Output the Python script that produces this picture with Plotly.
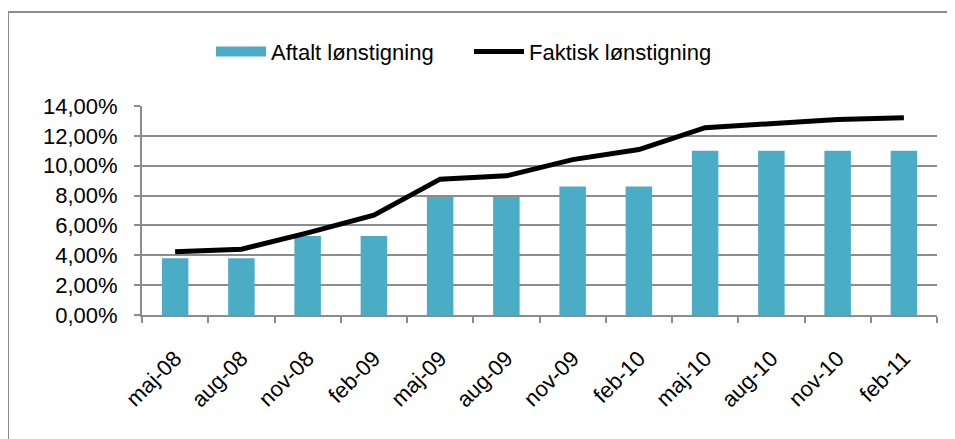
import plotly.graph_objects as go

categories = ["maj-08", "aug-08", "nov-08", "feb-09", "maj-09", "aug-09",
              "nov-09", "feb-10", "maj-10", "aug-10", "nov-10", "feb-11"]
aftalt = [3.8, 3.8, 5.3, 5.3, 7.9, 7.9, 8.6, 8.6, 11.0, 11.0, 11.0, 11.0]
faktisk = [4.23, 4.41, 5.5, 6.69, 9.1, 9.32, 10.41, 11.08, 12.55, 12.86, 13.09, 13.22]
y_ticks = [0, 2, 4, 6, 8, 10, 12, 14]
y_ticktext = ["0,00%", "2,00%", "4,00%", "6,00%", "8,00%", "10,00%", "12,00%", "14,00%"]

FONT = "Liberation Sans, Arial, sans-serif"
GRID = "#8c8c8c"
BAR = "#4BACC6"

# page body offsets the figure by 8px; compensate
OFF = 8
W, H = 955 - OFF, 439 - OFF
L, T, PW, PH = 142 - OFF, 106 - OFF, 795, 209

fig = go.Figure()
fig.add_trace(go.Bar(x=categories, y=aftalt, name="Aftalt lønstigning", showlegend=False,
                     marker=dict(color=BAR, line=dict(width=0)), width=0.4))
# legend swatch (wide rectangle) for the bar series
fig.add_trace(go.Scatter(x=[None], y=[None], name="Aftalt lønstigning", mode="lines",
                         line=dict(color=BAR, width=15)))
fig.add_trace(go.Scatter(x=categories, y=faktisk, name="Faktisk lønstigning",
                         mode="lines", line=dict(color="black", width=5)))

fig.update_layout(
    width=W, height=H,
    margin=dict(l=L, r=W - L - PW, t=T, b=H - T - PH, autoexpand=False),
    paper_bgcolor="white", plot_bgcolor="white",
    font=dict(family=FONT, size=22, color="black"),
    showlegend=True,
    legend=dict(orientation="h", x=(211 - 142) / PW, xanchor="left", y=1.26, yanchor="middle",
                font=dict(size=22), itemwidth=50, entrywidth=193, traceorder="normal",
                bgcolor="rgba(0,0,0,0)"),
    xaxis=dict(type="category", tickson="boundaries", ticks="outside", ticklen=6,
               tickcolor=GRID, tickwidth=2, showline=True, linecolor=GRID, linewidth=2,
               tickangle=-45, tickfont=dict(size=22), showgrid=False, automargin=False,
               ticklabelstandoff=20),
    yaxis=dict(range=[0, 14], tickvals=y_ticks, ticktext=y_ticktext,
               ticks="outside", ticklen=6, tickcolor=GRID, tickwidth=2,
               showline=True, linecolor=GRID, linewidth=2,
               showgrid=True, gridcolor=GRID, gridwidth=2, zeroline=False,
               tickfont=dict(size=22), automargin=False, ticklabelstandoff=12),
    shapes=[dict(type="rect", xref="paper", yref="paper",
                 x0=(8 - 142) / PW, x1=(952 - 142) / PW,
                 y0=(315 - 450) / PH, y1=(315 - 12) / PH,
                 line=dict(color=GRID, width=2), fillcolor="rgba(0,0,0,0)", layer="below")],
)

fig.write_html("out.html")
